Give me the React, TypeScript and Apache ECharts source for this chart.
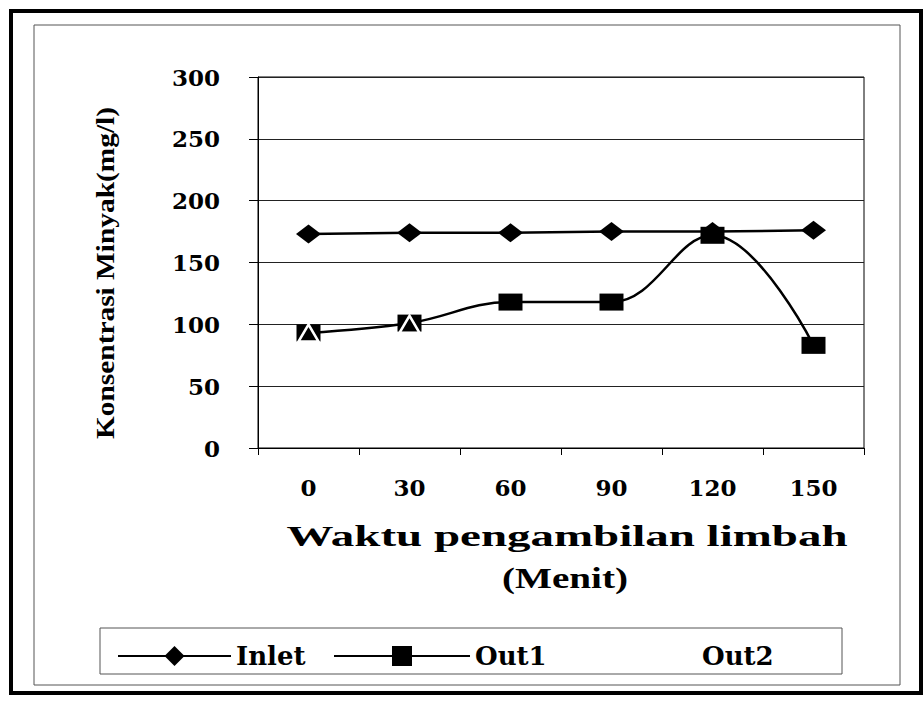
import React, { useEffect, useRef } from "react";
import * as echarts from "echarts";

const categories = ["0", "30", "60", "90", "120", "150"];
const inletValues = [173, 174, 174, 175, 175, 176];
const out1Values = [93, 101, 118, 118, 172, 83];
const out2Values: (number | null)[] = [93, 100, null, null, null, null];
const seriesNames = ["Inlet", "Out1", "Out2"];
const yAxisTitle = "Konsentrasi Minyak(mg/l)";
const xAxisTitle = "Waktu pengambilan limbah";
const xAxisUnit = "(Menit)";

const TIMES = "'Liberation Serif', 'Times New Roman', serif";
const WIDE = "'DejaVu Serif', serif";

export default function App() {
  const ref = useRef<HTMLDivElement>(null);
  useEffect(() => {
    if (!ref.current) return;
    const chart = echarts.init(ref.current, null, { renderer: "svg" });
    const legendText = {
      fontFamily: WIDE,
      fontWeight: "bold" as const,
      fontSize: 26,
      color: "#000",
    };
    chart.setOption({
      animation: false,
      backgroundColor: "#fff",
      grid: {
        left: 258,
        top: 77,
        width: 606,
        height: 371,
        show: true,
        borderColor: "#000",
        borderWidth: 1,
        backgroundColor: "#fff",
      },
      xAxis: {
        type: "category",
        data: categories,
        boundaryGap: true,
        axisLine: { lineStyle: { color: "#000", width: 1 } },
        axisTick: { show: true, length: 7, lineStyle: { color: "#000" } },
        axisLabel: {
          margin: 28,
          fontFamily: WIDE,
          fontWeight: "bold",
          fontSize: 23,
          color: "#000",
        },
      },
      yAxis: {
        type: "value",
        min: 0,
        max: 300,
        interval: 50,
        axisLine: { show: true, lineStyle: { color: "#000", width: 1 } },
        axisTick: { show: true, length: 9, lineStyle: { color: "#000" } },
        splitLine: { show: true, lineStyle: { color: "#222", width: 1 } },
        axisLabel: {
          margin: 38,
          fontFamily: WIDE,
          fontWeight: "bold",
          fontSize: 23,
          color: "#000",
        },
      },
      legend: [
        {
          data: [seriesNames[0]],
          left: 112,
          top: 638,
          itemWidth: 113,
          itemHeight: 25,
          textStyle: legendText,
        },
        {
          data: [seriesNames[1]],
          left: 328,
          top: 638,
          itemWidth: 136,
          itemHeight: 25,
          textStyle: legendText,
        },
        {
          data: [seriesNames[2]],
          left: 592,
          top: 638,
          itemWidth: 100,
          itemHeight: 25,
          textStyle: legendText,
        },
      ],
      series: [
        {
          name: seriesNames[0],
          type: "line",
          data: inletValues,
          symbol: "diamond",
          symbolSize: [25, 19],
          itemStyle: { color: "#000" },
          lineStyle: { color: "#000", width: 2.5 },
        },
        {
          name: seriesNames[1],
          type: "line",
          data: out1Values,
          smooth: 0.4,
          symbol: "rect",
          symbolSize: [24, 17],
          itemStyle: { color: "#000" },
          lineStyle: { color: "#000", width: 2.5 },
        },
        {
          name: seriesNames[2],
          type: "line",
          data: out2Values,
          symbol: "triangle",
          symbolSize: [20, 17],
          itemStyle: {
            color: "rgba(0,0,0,0)",
            borderColor: "#fff",
            borderWidth: 2.5,
          },
          lineStyle: { opacity: 0, width: 0 },
        },
      ],
      graphic: [
        {
          type: "rect",
          shape: { x: 11, y: 11, width: 910, height: 682 },
          style: { fill: "none", stroke: "#000", lineWidth: 4 },
          silent: true,
          z: -10,
        },
        {
          type: "rect",
          shape: { x: 34, y: 25, width: 866, height: 660 },
          style: { fill: "none", stroke: "#555", lineWidth: 1 },
          silent: true,
          z: -10,
        },
        {
          type: "rect",
          shape: { x: 100, y: 628, width: 742, height: 46 },
          style: { fill: "none", stroke: "#555", lineWidth: 1 },
          silent: true,
        },
        {
          type: "text",
          x: 105,
          y: 273,
          rotation: Math.PI / 2,
          scaleX: 1.13,
          style: {
            text: yAxisTitle,
            fontFamily: TIMES,
            fontWeight: "bold",
            fontSize: 26,
            fill: "#000",
            align: "center",
            verticalAlign: "middle",
          },
        },
        {
          type: "text",
          x: 567,
          y: 536,
          scaleX: 1.62,
          style: {
            text: xAxisTitle,
            fontFamily: TIMES,
            fontWeight: "bold",
            fontSize: 29,
            fill: "#000",
            align: "center",
            verticalAlign: "middle",
          },
        },
        {
          type: "text",
          x: 565,
          y: 578,
          scaleX: 1.35,
          style: {
            text: xAxisUnit,
            fontFamily: TIMES,
            fontWeight: "bold",
            fontSize: 29,
            fill: "#000",
            align: "center",
            verticalAlign: "middle",
          },
        },
      ],
    });
    return () => chart.dispose();
  }, []);
  return (
    <div
      ref={ref}
      style={{ position: "absolute", left: 0, top: 0, width: 924, height: 702 }}
    />
  );
}
